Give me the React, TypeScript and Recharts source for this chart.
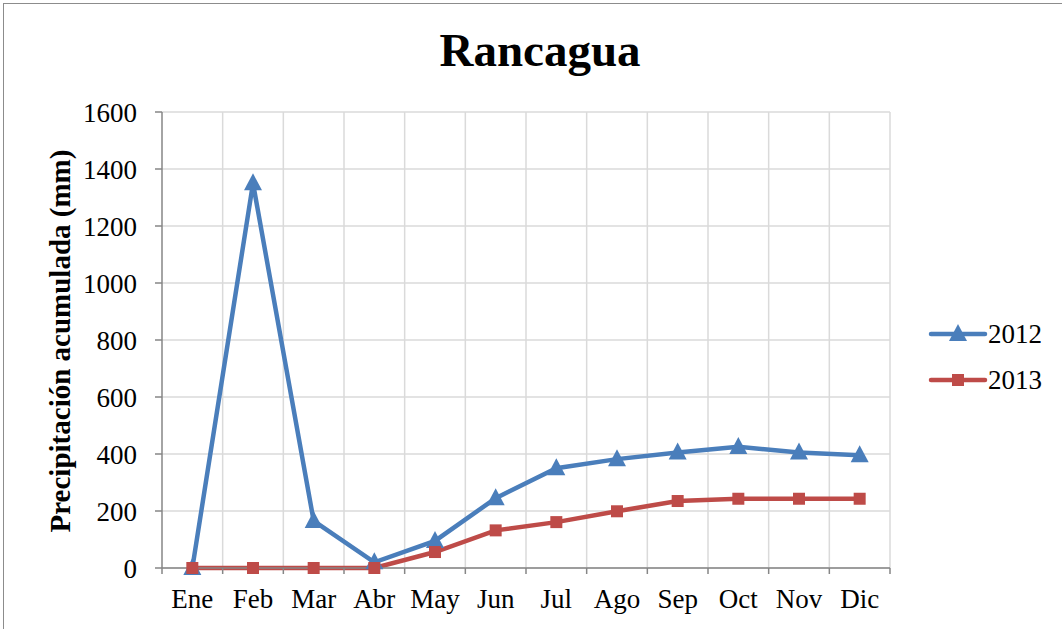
import { LineChart, Line, XAxis, YAxis, CartesianGrid } from 'recharts';

const months = ['Ene', 'Feb', 'Mar', 'Abr', 'May', 'Jun', 'Jul', 'Ago', 'Sep', 'Oct', 'Nov', 'Dic'];
const precip2012 = [0, 1350, 165, 20, 95, 245, 350, 382, 405, 425, 405, 396];
const precip2013 = [0, 0, 0, 0, 56, 132, 161, 199, 235, 243, 243, 243];
const yTicks = [0, 200, 400, 600, 800, 1000, 1200, 1400, 1600];

const BLUE = '#4A7EBB';
const RED = '#BE4B48';
const FONT = '"Liberation Serif", "Times New Roman", serif';

const data = months.map((m, i) => ({ month: m, y2012: precip2012[i], y2013: precip2013[i] }));

const series = [
  { name: '2012', color: BLUE, shape: 'tri' },
  { name: '2013', color: RED, shape: 'sq' },
];

const Triangle = ({ cx, cy, fill }: any) => {
  if (cx == null || cy == null) return null;
  return <polygon points={`${cx},${cy - 10} ${cx - 9},${cy + 7} ${cx + 9},${cy + 7}`} fill={fill} />;
};

const Square = ({ cx, cy, fill }: any) => {
  if (cx == null || cy == null) return null;
  return <rect x={cx - 6} y={cy - 6} width={12} height={12} fill={fill} />;
};

const MonthTick = ({ x, y, payload, index }: any) => {
  const half = payload.offset ?? 30;
  return (
    <g>
      <line x1={x - half} x2={x - half} y1={y - 8} y2={y - 2} stroke="#868686" strokeWidth={1.5} />
      {index === months.length - 1 && (
        <line x1={x + half} x2={x + half} y1={y - 8} y2={y - 2} stroke="#868686" strokeWidth={1.5} />
      )}
      <text x={x} y={y + 32} textAnchor="middle" fontFamily={FONT} fontSize={27} fill="#000">
        {payload.value}
      </text>
    </g>
  );
};

export default function App() {
  return (
    <div style={{ position: 'absolute', left: 0, top: 0, width: 1062, height: 629, overflow: 'hidden', background: '#fff' }}>
      <div
        style={{
          position: 'absolute',
          left: 3,
          top: 3,
          width: 1070,
          height: 640,
          border: '1.5px solid #8c8c8c',
          boxSizing: 'border-box',
        }}
      />
      <div
        style={{
          position: 'absolute',
          left: 0,
          top: 23,
          width: 1080,
          textAlign: 'center',
          fontFamily: FONT,
          fontWeight: 700,
          fontSize: 47,
          color: '#000',
        }}
      >
        Rancagua
      </div>
      <div style={{ position: 'absolute', left: 0, top: 0 }}>
        <LineChart width={1062} height={629} data={data} margin={{ top: 112, right: 172, bottom: 0, left: 0 }}>
          <CartesianGrid
            stroke="#DADADA"
            strokeWidth={1.5}
            verticalCoordinatesGenerator={({ offset }: any) =>
              months.map((_, i) => offset.left + ((i + 1) * offset.width) / months.length)
            }
          />
          <XAxis
            dataKey="month"
            scale="band"
            axisLine={{ stroke: '#868686', strokeWidth: 1.5 }}
            tickLine={false}
            tick={<MonthTick />}
            interval={0}
            height={61}
          />
          <YAxis
            domain={[0, 1600]}
            ticks={yTicks}
            width={162}
            axisLine={{ stroke: '#868686', strokeWidth: 1.5 }}
            tickLine={{ stroke: '#868686', strokeWidth: 1.5 }}
            tickSize={7}
            tick={{ fontFamily: FONT, fontSize: 27, fill: '#000' }}
            tickMargin={18}
            label={{
              content: () => (
                <text
                  x={70}
                  y={341}
                  transform="rotate(-90 70 341)"
                  textAnchor="middle"
                  fontFamily={FONT}
                  fontWeight={700}
                  fontSize={29}
                  fill="#000"
                >
                  Precipitación acumulada (mm)
                </text>
              ),
            }}
          />
          <Line
            dataKey="y2012"
            name="2012"
            stroke={BLUE}
            strokeWidth={4.5}
            dot={<Triangle fill={BLUE} />}
            activeDot={false}
            isAnimationActive={false}
          />
          <Line
            dataKey="y2013"
            name="2013"
            stroke={RED}
            strokeWidth={4.5}
            dot={<Square fill={RED} />}
            activeDot={false}
            isAnimationActive={false}
          />
        </LineChart>
      </div>
      <div style={{ position: 'absolute', left: 928, top: 311, fontFamily: FONT, fontSize: 27, color: '#000' }}>
        {series.map((s) => (
          <div key={s.name} style={{ display: 'flex', alignItems: 'center', height: 46 }}>
            <svg width={60} height={24}>
              <line x1={3} x2={57} y1={12} y2={12} stroke={s.color} strokeWidth={4.5} strokeLinecap="round" />
              {s.shape === 'tri' ? (
                <polygon points="30,2 21,19 39,19" fill={s.color} />
              ) : (
                <rect x={24} y={6} width={12} height={12} fill={s.color} />
              )}
            </svg>
            <span>{s.name}</span>
          </div>
        ))}
      </div>
    </div>
  );
}
